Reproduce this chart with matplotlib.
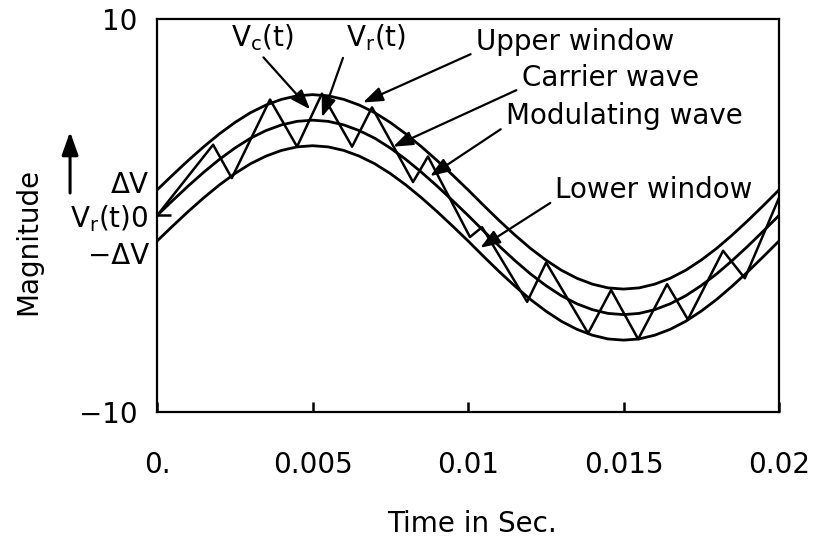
import numpy as np
import matplotlib.pyplot as plt

# modulating wave, every 0.5 ms
time = np.arange(0, 0.02001, 0.0005)
modulating = [0.0, 0.76, 1.5, 2.2, 2.85, 3.43, 3.93, 4.32, 4.61, 4.79, 4.85,
              4.79, 4.61, 4.32, 3.93, 3.43, 2.85, 2.2, 1.5, 0.76, 0.0,
              -0.79, -1.56, -2.29, -2.97, -3.57, -4.09, -4.5, -4.8, -4.99, -5.05,
              -4.99, -4.8, -4.5, -4.09, -3.57, -2.97, -2.29, -1.56, -0.79, 0.0]
delta_v = 1.3  # half width of the hysteresis band

# carrier wave corners (time, value)
carrier_t = [0.0, 0.0018, 0.0024, 0.00363, 0.0045, 0.0053, 0.00627, 0.00691,
             0.00823, 0.00871, 0.01006, 0.01045, 0.0119, 0.01251, 0.01386,
             0.0146, 0.01547, 0.0164, 0.01707, 0.0182, 0.0189, 0.02]
carrier_v = [0.0, 3.6, 1.9, 5.9, 3.5, 6.2, 3.5, 5.5,
             1.7, 3.0, -1.1, -0.6, -4.4, -2.4, -6.0,
             -3.8, -6.3, -3.5, -5.3, -1.8, -3.2, 0.9]

xticks = [0, 0.005, 0.01, 0.015, 0.02]
xtick_labels = ['0.', '0.005', '0.01', '0.015', '0.02']
band_ticks = [1.7, 0, -1.9]
band_labels = ['ΔV', 'V$_\\mathregular{r}$(t)0', '−ΔV']

plt.rcParams['font.family'] = 'DejaVu Sans'
plt.rcParams['font.size'] = 20
lw = 2.0

fig = plt.figure(figsize=(8.27, 5.44), dpi=100)
ax = fig.add_axes([0.190, 0.243, 0.752, 0.722])

mod = np.array(modulating)
ax.plot(time, mod + delta_v, color='black', lw=lw)
ax.plot(time, mod, color='black', lw=lw)
ax.plot(time, mod - delta_v, color='black', lw=lw)
ax.plot(carrier_t, carrier_v, color='black', lw=1.8)

ax.set_xlim(0, 0.02)
ax.set_ylim(-10, 10)
for s in ax.spines.values():
    s.set_linewidth(1.6)

ax.set_xticks(xticks, labels=xtick_labels)
ax.tick_params(axis='x', direction='in', length=7, width=1.8, pad=28)
ax.set_yticks([-10, 10], labels=['−10', '10'])
ax.tick_params(axis='y', length=0, pad=14)
ax.set_yticks([0], minor=True)
ax.tick_params(axis='y', which='minor', direction='in', length=10, width=1.8)

band = ax.secondary_yaxis('left')
band.set_yticks(band_ticks, labels=band_labels)
band.tick_params(length=0, pad=6)
band.spines['left'].set_visible(False)

ax.set_xlabel('Time in Sec.')
ax.xaxis.set_label_coords(0.506, -0.25)
ax.set_ylabel('Magnitude')
ax.yaxis.set_label_coords(-0.185, 0.433)
ax.annotate('', xy=(-0.14, 0.72), xytext=(-0.14, 0.55), xycoords='axes fraction',
            arrowprops=dict(arrowstyle='-|>,head_length=0.7,head_width=0.25',
                            color='black', lw=2.2),
            annotation_clip=False)

arrow = dict(arrowstyle='-|>,head_length=0.6,head_width=0.22', color='black',
             lw=1.6, shrinkA=2, shrinkB=0)
notes = [
    ('V$_\\mathregular{c}$(t)', (0.00338, 9.08), (0.00492, 5.4), (0.45, 0.0)),
    ('V$_\\mathregular{r}$(t)', (0.00704, 9.08), (0.0053, 5.0), (0.0, 0.1)),
    ('Upper window', (0.01344, 8.83), (0.00662, 5.75), (0.0, 0.15)),
    ('Carrier wave', (0.01457, 7.0), (0.00759, 3.5), (0.0, 0.15)),
    ('Modulating wave', (0.01502, 5.06), (0.00878, 2.0), (0.0, 0.15)),
    ('Lower window', (0.01598, 1.3), (0.01039, -1.65), (0.0, 0.15)),
]
for txt, pos, tip, rel in notes:
    ax.annotate(txt, xy=tip, xytext=pos, ha='center', va='center',
                arrowprops=dict(arrow, relpos=rel))

fig.savefig('out.png', dpi=100)
